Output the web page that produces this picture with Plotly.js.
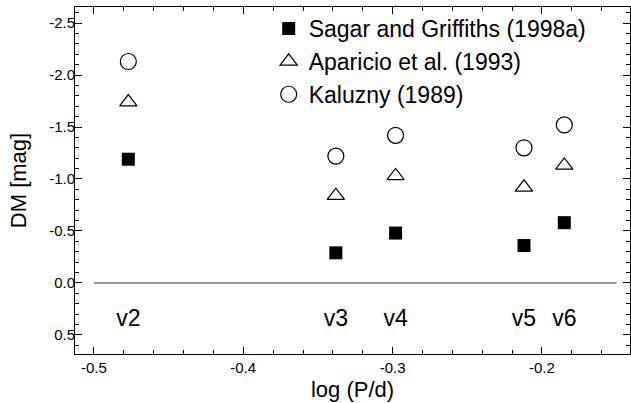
<!DOCTYPE html>
<html>
<head>
<meta charset="utf-8">
<script src="https://cdn.plot.ly/plotly-3.0.1.min.js"></script>
<style>html,body{margin:0;padding:0;background:#fff;}#chart{width:631px;height:403px;}</style>
</head>
<body>
<div id="chart"></div>
<script>
// Data
var starNames = ["v2", "v3", "v4", "v5", "v6"];
var logP = [-0.477, -0.338, -0.298, -0.212, -0.185];
var dmSagar = [-1.19, -0.29, -0.48, -0.36, -0.58];
var dmAparicio = [-1.74, -0.84, -1.03, -0.92, -1.13];
var dmKaluzny = [-2.13, -1.22, -1.42, -1.30, -1.52];
var labelLevel = [0.36, 0.36, 0.36, 0.36, 0.36];
var zeroLineX = [-0.5, -0.15];
var zeroLineY = [0, 0];
var xTickVals = [-0.5, -0.4, -0.3, -0.2];
var xTickText = ["-0.5", "-0.4", "-0.3", "-0.2"];
var yTickVals = [-2.5, -2.0, -1.5, -1.0, -0.5, 0.0, 0.5];
var yTickText = ["-2.5", "-2.0", "-1.5", "-1.0", "-0.5", "0.0", "0.5"];

var FONT = "Liberation Sans, Arial, sans-serif";

var traces = [
  {x: zeroLineX, y: zeroLineY, mode: "lines", line: {color: "#333", width: 1}, showlegend: false, hoverinfo: "skip"},
  {x: logP, y: dmSagar, mode: "markers", name: "Sagar and Griffiths (1998a)",
   marker: {symbol: "square", size: 13, color: "#000", line: {width: 0}}},
  {x: logP, y: dmAparicio, mode: "markers", name: "Aparicio et al. (1993)",
   marker: {symbol: "triangle-up-open", size: 15, color: "#000", line: {width: 1.2, color: "#000"}}},
  {x: logP, y: dmKaluzny, mode: "markers", name: "Kaluzny (1989)",
   marker: {symbol: "circle-open", size: 16, color: "#000", line: {width: 1.2, color: "#000"}}},
  {x: logP, y: labelLevel, mode: "text", text: starNames, textposition: "middle center",
   textfont: {family: FONT, size: 23, color: "#000"}, showlegend: false, hoverinfo: "skip"}
];

var layout = {
  width: 631, height: 403,
  margin: {l: 75, r: 1, t: 7, b: 49},
  paper_bgcolor: "#fff", plot_bgcolor: "#fff",
  font: {family: FONT, color: "#000"},
  showlegend: true,
  legend: {x: 0.349, y: 1.0, xanchor: "left", yanchor: "top", bgcolor: "rgba(0,0,0,0)",
           font: {family: FONT, size: 23, color: "#000"}, borderwidth: 0},
  xaxis: {
    range: [-0.5127, -0.141],
    tickvals: xTickVals, ticktext: xTickText,
    ticks: "inside", ticklen: 7, tickwidth: 1, tickcolor: "#000",
    minor: {dtick: 0.02, tick0: -0.5, ticks: "inside", ticklen: 4, tickwidth: 1, tickcolor: "#000"},
    showline: true, linecolor: "#000", linewidth: 1, mirror: "ticks",
    showgrid: false, zeroline: false,
    tickfont: {family: FONT, size: 15, color: "#000"},
    title: {text: "log (P/d)", font: {family: FONT, size: 22, color: "#000"}, standoff: 6}
  },
  yaxis: {
    range: [0.683, -2.654],
    tickvals: yTickVals, ticktext: yTickText,
    ticks: "inside", ticklen: 7, tickwidth: 1, tickcolor: "#000",
    ticklabelstandoff: -4,
    minor: {dtick: 0.1, tick0: 0, ticks: "inside", ticklen: 4, tickwidth: 1, tickcolor: "#000"},
    showline: true, linecolor: "#000", linewidth: 1, mirror: "ticks",
    showgrid: false, zeroline: false,
    tickfont: {family: FONT, size: 15, color: "#000"},
    title: {text: "DM [mag]", font: {family: FONT, size: 22, color: "#000"}, standoff: 16}
  }
};

Plotly.newPlot("chart", traces, layout, {displayModeBar: false, staticPlot: true});
</script>
</body>
</html>
